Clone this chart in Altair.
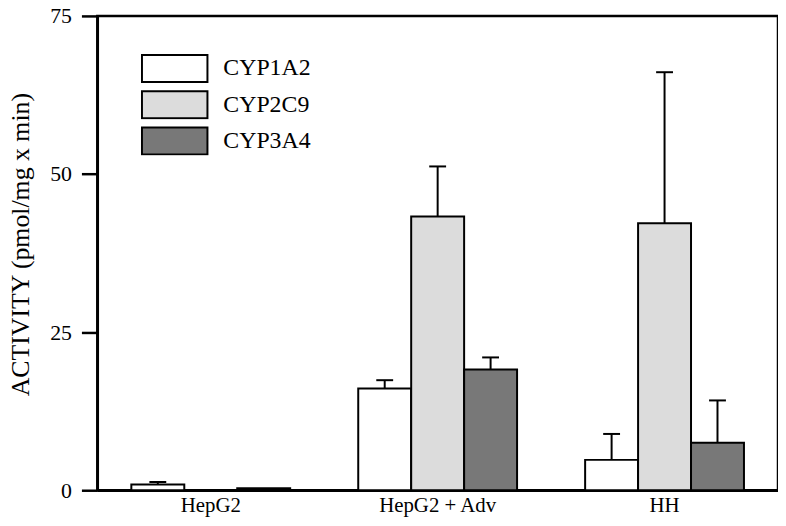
import altair as alt
import pandas as pd

groups = ["HepG2", "HepG2 + Adv", "HH"]
series = ["CYP1A2", "CYP2C9", "CYP3A4"]
cyp1a2 = [0.9, 16.1, 4.8]
cyp1a2_err = [0.4, 1.3, 4.1]
cyp2c9 = [0.0, 43.3, 42.2]
cyp2c9_err = [0.0, 7.9, 23.9]
cyp3a4 = [0.3, 19.1, 7.5]
cyp3a4_err = [0.0, 1.9, 6.7]
fills = ["#ffffff", "#dcdcdc", "#787878"]
y_ticks = [0, 25, 50, 75]

rows = []
for s, vals, errs in zip(series, [cyp1a2, cyp2c9, cyp3a4], [cyp1a2_err, cyp2c9_err, cyp3a4_err]):
    for g, v, e in zip(groups, vals, errs):
        rows.append(dict(group=g, series=s, value=v, upper=v + e, err=e))
df = pd.DataFrame(rows)

FONT = "Liberation Serif"

x = alt.X("group:N", sort=groups,
          scale=alt.Scale(paddingInner=0.3, paddingOuter=0.15),
          axis=alt.Axis(title=None, ticks=False, labelAngle=0, labelFontSize=21,
                        labelFont=FONT, labelColor="black", labelPadding=4,
                        domainWidth=2.5, domainColor="black"))
xoff = alt.XOffset("series:N", sort=series, scale=alt.Scale(paddingInner=0, paddingOuter=0))
y = alt.Y("value:Q", scale=alt.Scale(domain=[0, 75], nice=False),
          axis=alt.Axis(values=y_ticks, title="ACTIVITY (pmol/mg x min)", grid=False,
                        tickSize=16, tickWidth=2.5, tickColor="black",
                        domainWidth=2.5, domainColor="black",
                        labelFontSize=22, labelFont=FONT, labelColor="black", labelPadding=10,
                        titleFont=FONT, titleFontSize=26, titleFontWeight="normal",
                        titleColor="black", titlePadding=16, titleY=230))

bars = alt.Chart(df).mark_bar(stroke="black", strokeWidth=2, opacity=1).encode(
    x=x, xOffset=xoff, y=y,
    color=alt.Color("series:N", scale=alt.Scale(domain=series, range=fills),
                    legend=alt.Legend(title=None, orient="none", legendX=44, legendY=38,
                                      symbolType="M-1,-0.41L1,-0.41L1,0.41L-1,0.41Z",
                                      symbolSize=4356, symbolStrokeColor="black",
                                      symbolStrokeWidth=2, symbolOpacity=1,
                                      clipHeight=30,
                                      labelFontSize=24, labelFont=FONT, labelColor="black",
                                      labelOffset=15, rowPadding=6.5, padding=0)),
)

err_df = alt.Chart(df).transform_filter("datum.err > 0")
rules = err_df.mark_rule(strokeWidth=2, color="black").encode(
    x=x, xOffset=xoff, y="value:Q", y2="upper:Q")
caps = err_df.mark_tick(size=17, thickness=2, color="black", opacity=1).encode(
    x=x, xOffset=xoff, y="upper:Q")

chart = alt.layer(bars, rules, caps).properties(
    width=686, height=478,
    autosize=alt.AutoSizeParams(type="none"),
    padding={"left": 90, "top": 6, "right": 0, "bottom": 26},
).configure_view(stroke="black", strokeWidth=2.5)

chart.save("out.html", embed_options={"renderer": "svg", "actions": False})
